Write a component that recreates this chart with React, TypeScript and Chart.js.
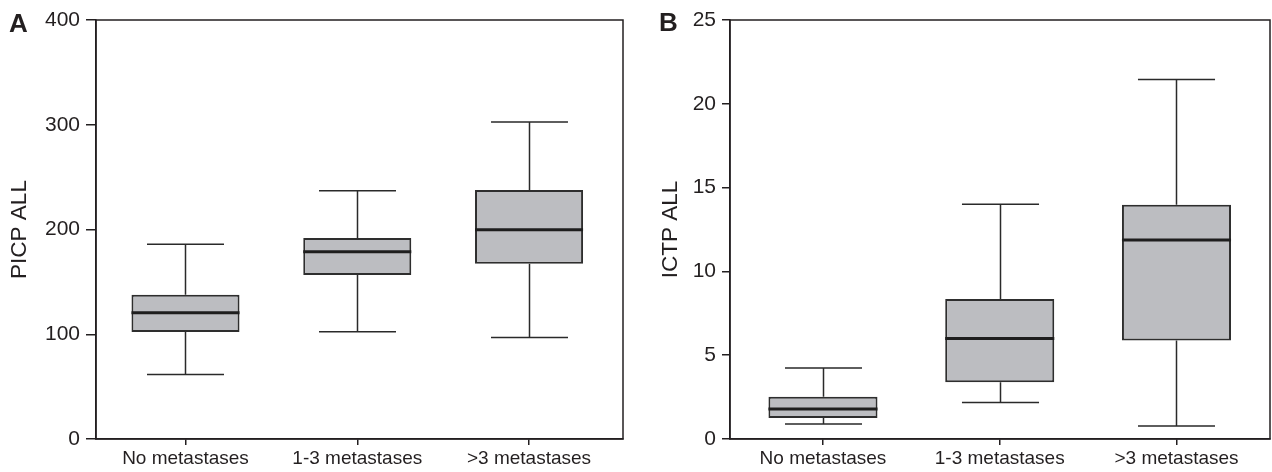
import React, { useEffect, useRef } from "react";
import { Chart, registerables } from "chart.js";

Chart.register(...registerables);

const categories = ["No metastases", "1-3 metastases", ">3 metastases"];
const categoryPositions = [0, 1, 2];

const picpMin = [61.5, 102.5, 96.8];
const picpQ1 = [102.2, 156.5, 167.3];
const picpMedian = [120.6, 178.7, 199.7];
const picpQ3 = [137.8, 192, 237.8];
const picpMax = [186, 236.9, 302.7];
const picpTicks = [0, 100, 200, 300, 400];

const ictpMin = [0.89, 2.18, 0.78];
const ictpQ1 = [1.25, 3.39, 5.87];
const ictpMedian = [1.79, 5.99, 11.87];
const ictpQ3 = [2.52, 8.36, 13.97];
const ictpMax = [4.23, 14.0, 21.45];
const ictpTicks = [0, 5, 10, 15, 20, 25];

const FONT = "'Liberation Sans', Arial, Helvetica, sans-serif";
const INK = "#231f20";
const BOX_FILL = "#bcbdc1";

type Stats = { min: number[]; q1: number[]; med: number[]; q3: number[]; max: number[] };

function makeBoxPlugin(stats: Stats, capFrac: number) {
  return {
    id: "boxWhisker",
    beforeDatasetsDraw(chart: any) {
      const { ctx } = chart;
      const xs = chart.scales.x;
      const ys = chart.scales.y;
      const unit = Math.abs(xs.getPixelForValue(1) - xs.getPixelForValue(0));
      ctx.save();
      ctx.strokeStyle = "#2a2a2a";
      ctx.lineWidth = 1.5;
      stats.min.forEach((_, i) => {
        const cx = Math.round(xs.getPixelForValue(categoryPositions[i])) + 0.5;
        const half = (unit * capFrac) / 2;
        const yMin = ys.getPixelForValue(stats.min[i]);
        const yMax = ys.getPixelForValue(stats.max[i]);
        const yQ1 = ys.getPixelForValue(stats.q1[i]);
        const yQ3 = ys.getPixelForValue(stats.q3[i]);
        ctx.beginPath();
        ctx.moveTo(cx, yQ3);
        ctx.lineTo(cx, yMax);
        ctx.moveTo(cx - half, yMax);
        ctx.lineTo(cx + half, yMax);
        ctx.moveTo(cx, yQ1);
        ctx.lineTo(cx, yMin);
        ctx.moveTo(cx - half, yMin);
        ctx.lineTo(cx + half, yMin);
        ctx.stroke();
      });
      ctx.restore();
    },
    afterDatasetsDraw(chart: any) {
      const { ctx } = chart;
      const ys = chart.scales.y;
      const meta = chart.getDatasetMeta(0);
      ctx.save();
      ctx.strokeStyle = "#1e1e1e";
      ctx.lineWidth = 3;
      stats.med.forEach((m, i) => {
        const el = meta.data[i];
        const y = ys.getPixelForValue(m);
        ctx.beginPath();
        ctx.moveTo(el.x - el.width / 2, y);
        ctx.lineTo(el.x + el.width / 2, y);
        ctx.stroke();
      });
      const a = chart.chartArea;
      ctx.strokeStyle = INK;
      ctx.lineWidth = 1.5;
      ctx.strokeRect(a.left, a.top, a.right - a.left, a.bottom - a.top);
      ctx.restore();
    },
  };
}

type PanelProps = {
  width: number;
  height: number;
  stats: Stats;
  ticks: number[];
  title: string;
  yWidth: number;
  padRight: number;
  titlePad: number;
  yTickLen: number;
  barFrac: number;
  capFrac: number;
  xMin: number;
  xMax: number;
};

function Panel(p: PanelProps) {
  const ref = useRef<HTMLCanvasElement | null>(null);
  useEffect(() => {
    if (!ref.current) return;
    const chart = new Chart(ref.current, {
      type: "bar",
      data: {
        datasets: [
          {
            data: p.stats.q1.map((q, i) => ({ x: categoryPositions[i], y: [q, p.stats.q3[i]] })) as any,
            backgroundColor: BOX_FILL,
            borderColor: "#2e2e2e",
            borderWidth: 2,
            borderSkipped: false,
            barPercentage: p.barFrac,
            categoryPercentage: 1,
          },
        ],
      },
      options: {
        responsive: false,
        animation: false,
        devicePixelRatio: 1,
        layout: { padding: { top: 20, right: p.padRight, bottom: 0, left: 0 } },
        plugins: { legend: { display: false }, tooltip: { enabled: false } },
        scales: {
          x: {
            type: "linear",
            min: p.xMin,
            max: p.xMax,
            offset: false,
            afterBuildTicks: (s: any) => {
              s.ticks = categoryPositions.map((v) => ({ value: v }));
            },
            grid: {
              offset: false,
              drawOnChartArea: false,
              drawTicks: true,
              tickLength: 6,
              color: INK,
              lineWidth: 1.5,
            },
            border: { display: true, color: INK, width: 1.5 },
            ticks: {
              font: { family: FONT, size: 19 },
              color: INK,
              padding: 2,
              maxRotation: 0,
              autoSkip: false,
              callback: (v: any) => categories[categoryPositions.indexOf(Number(v))] ?? "",
            },
            afterFit: (s: any) => {
              s.height = 33;
            },
          },
          y: {
            type: "linear",
            min: p.ticks[0],
            max: p.ticks[p.ticks.length - 1],
            afterBuildTicks: (s: any) => {
              s.ticks = p.ticks.map((v) => ({ value: v }));
            },
            grid: {
              drawOnChartArea: false,
              drawTicks: true,
              tickLength: p.yTickLen,
              color: INK,
              lineWidth: 1.5,
            },
            border: { display: true, color: INK, width: 1.5 },
            ticks: {
              font: { family: FONT, size: 21 },
              color: INK,
              padding: 6,
            },
            title: {
              display: true,
              text: p.title,
              font: { family: FONT, size: 22.5 },
              color: INK,
              padding: { top: p.titlePad, bottom: 0 },
            },
            afterFit: (s: any) => {
              s.width = p.yWidth;
            },
          },
        },
      },
      plugins: [makeBoxPlugin(p.stats, p.capFrac)],
    });
    return () => chart.destroy();
  }, []);
  return <canvas ref={ref} width={p.width} height={p.height} style={{ display: "block" }} />;
}

const letterStyle: React.CSSProperties = {
  position: "absolute",
  fontFamily: FONT,
  fontWeight: "bold",
  fontSize: 26,
  lineHeight: 1,
  color: INK,
};

export default function App() {
  return (
    <div
      style={{
        position: "absolute",
        left: 0,
        top: 0,
        width: 1272,
        height: 472,
        background: "#fff",
        overflow: "hidden",
      }}
    >
      <div style={{ position: "absolute", left: 0, top: 0 }}>
        <Panel
          width={640}
          height={472}
          stats={{ min: picpMin, q1: picpQ1, med: picpMedian, q3: picpQ3, max: picpMax }}
          ticks={picpTicks}
          title="PICP ALL"
          yWidth={96}
          padRight={17}
          titlePad={6}
          yTickLen={10}
          barFrac={0.629}
          capFrac={0.448}
          xMin={-0.521}
          xMax={2.547}
        />
      </div>
      <div style={{ position: "absolute", left: 640, top: 0 }}>
        <Panel
          width={632}
          height={472}
          stats={{ min: ictpMin, q1: ictpQ1, med: ictpMedian, q3: ictpQ3, max: ictpMax }}
          ticks={ictpTicks}
          title="ICTP ALL"
          yWidth={90}
          padRight={2}
          titlePad={17}
          yTickLen={8}
          barFrac={0.617}
          capFrac={0.436}
          xMin={-0.526}
          xMax={2.529}
        />
      </div>
      <div style={{ ...letterStyle, left: 9, top: 10 }}>A</div>
      <div style={{ ...letterStyle, left: 659, top: 9 }}>B</div>
    </div>
  );
}
